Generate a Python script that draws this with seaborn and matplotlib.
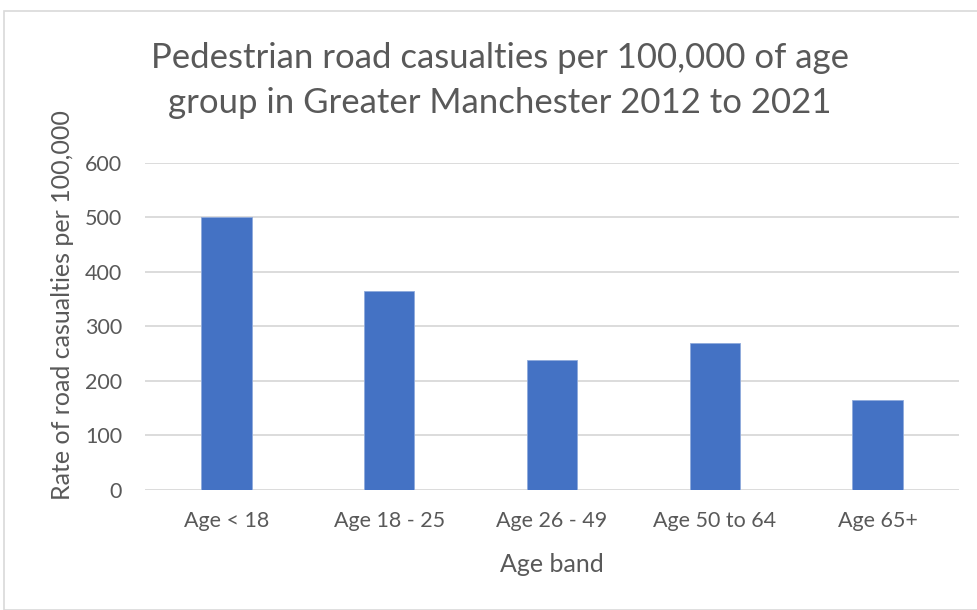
import matplotlib
matplotlib.use("Agg")
import matplotlib.pyplot as plt
import seaborn as sns
import pandas as pd
from matplotlib.patches import Rectangle

categories = ["Age < 18", "Age 18 - 25", "Age 26 - 49", "Age 50 to 64", "Age 65+"]
values = [500, 364, 238, 270, 164]
yticks = [0, 100, 200, 300, 400, 500, 600]

df = pd.DataFrame({"band": categories, "rate": values})

sns.set_theme(style="white")
plt.rcParams['font.family'] = ['Lato', 'DejaVu Sans']

W, H = 978, 610
fig = plt.figure(figsize=(W / 100, H / 100), dpi=100)
fig.patch.set_facecolor("white")

# outer chart border
fig.add_artist(Rectangle((4 / W, 0), 1.2, 1 - 10.5 / H, transform=fig.transFigure,
                         fill=False, edgecolor="#d9d9d9", linewidth=1.2))

left, right = 145 / W, 959 / W
bottom, top = 1 - 489.7 / H, 1 - 162.7 / H
ax = fig.add_axes([left, bottom, right - left, top - bottom])

sns.barplot(data=df, x="band", y="rate", color="#4472C4", width=0.31,
            saturation=1, ax=ax, edgecolor="#8faadc", linewidth=0.6, zorder=3)

ax.set_ylim(0, 600)
ax.set_yticks(yticks)
ax.set_xlim(-0.5, 4.5)
ax.grid(axis="y", color="#d9d9d9", linewidth=1.3, zorder=0)
ax.set_axisbelow(True)
for s in ax.spines.values():
    s.set_visible(False)
ax.tick_params(axis="both", length=0, labelsize=15.5, labelcolor="#595959")
ax.tick_params(axis="y", pad=16.5)
ax.tick_params(axis="x", pad=15)

ax.set_xlabel("Age band", fontsize=18, color="#595959")
ax.xaxis.set_label_coords(0.5, -(565 - 489.7) / 327)
ax.xaxis.label.set_va("center")
ax.set_ylabel("Rate of road casualties per 100,000", fontsize=18, color="#595959")
ax.yaxis.set_label_coords((62 - 145) / 814, (489.7 - 305) / 327)
ax.yaxis.label.set_va("center")

fig.text(500 / W, 1 - 58 / H, "Pedestrian road casualties per 100,000 of age",
         ha="center", va="center", fontsize=25, color="#595959")
fig.text(500 / W, 1 - 103 / H, "group in Greater Manchester 2012 to 2021",
         ha="center", va="center", fontsize=25, color="#595959")

fig.savefig("out.png", dpi=100, facecolor="white")
